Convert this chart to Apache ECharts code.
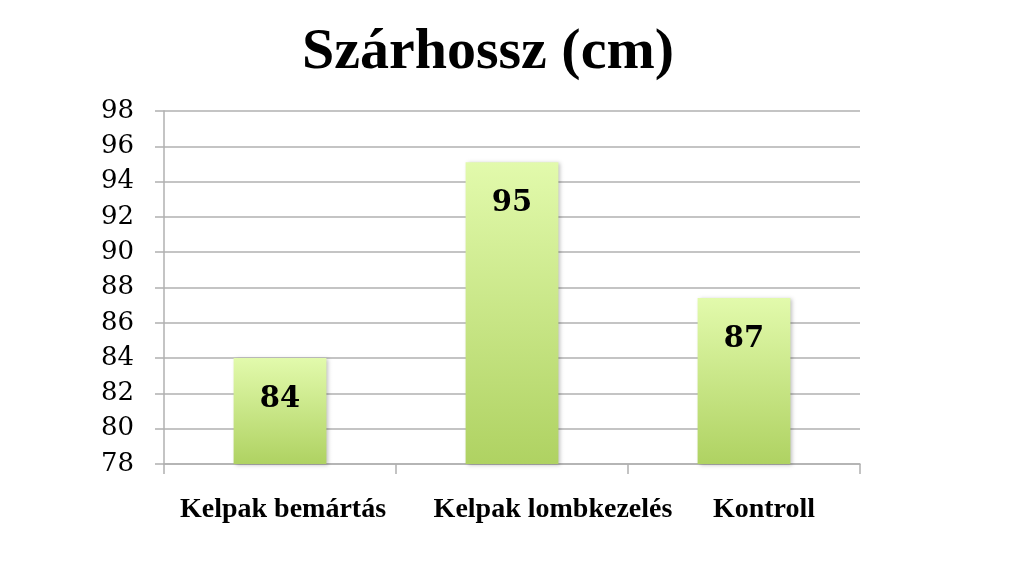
<!DOCTYPE html>
<html>
<head>
<meta charset="utf-8">
<script src="https://cdn.jsdelivr.net/npm/echarts@6/dist/echarts.min.js"></script>
<style>
html,body{margin:0;padding:0;background:#fff;}
#chart{width:1024px;height:571px;}
</style>
</head>
<body>
<div id="chart"></div>
<script>
var titleText = 'Szárhossz (cm)';
var categories = ['Kelpak bemártás', 'Kelpak lombkezelés', 'Kontroll'];
var values = [84.0, 95.1, 87.4];
var labelText = ['84', '95', '87'];
var yTicks = [78, 80, 82, 84, 86, 88, 90, 92, 94, 96, 98];
var catLabelX = [283, 553, 764];

var chart = echarts.init(document.getElementById('chart'));
var grey = '#b0b0b0';

var graphics = [{
  type: 'text', x: 488, y: 53,
  style: { text: titleText, font: 'bold 58px "Liberation Serif"', fill: '#000', align: 'center', verticalAlign: 'middle' }
}];
categories.forEach(function (c, i) {
  graphics.push({
    type: 'text', x: catLabelX[i], y: 510,
    style: { text: c, font: 'bold 28px "Liberation Serif"', fill: '#000', align: 'center', verticalAlign: 'middle' }
  });
});

chart.setOption({
  animation: false,
  backgroundColor: '#fff',
  grid: { left: 164, right: 164, top: 111, bottom: 107 },
  xAxis: {
    type: 'category',
    data: categories,
    axisLine: { show: true, lineStyle: { color: grey, width: 1.5 } },
    axisTick: { show: true, length: 10, lineStyle: { color: grey, width: 1.5 } },
    axisLabel: { show: false }
  },
  yAxis: {
    type: 'value',
    min: yTicks[0], max: yTicks[yTicks.length - 1], interval: 2,
    axisLine: { show: true, lineStyle: { color: grey, width: 1.5 } },
    axisTick: { show: true, length: 9, lineStyle: { color: grey, width: 1.5 } },
    splitLine: { show: true, lineStyle: { color: grey, width: 1.5 } },
    axisLabel: { margin: 30, color: '#000', fontFamily: 'DejaVu Serif', fontSize: 26, padding: [8, 0, 0, 0] }
  },
  series: [{
    type: 'bar',
    data: values,
    barWidth: '40%',
    itemStyle: {
      color: new echarts.graphic.LinearGradient(0, 0, 0, 1, [
        { offset: 0, color: '#e2faac' },
        { offset: 1, color: '#afd262' }
      ]),
      shadowBlur: 4, shadowColor: 'rgba(0,0,0,0.25)', shadowOffsetX: 2, shadowOffsetY: 1
    },
    label: {
      show: true, position: 'insideTop', distance: 27,
      formatter: function (p) { return labelText[p.dataIndex]; },
      fontFamily: 'DejaVu Serif', fontWeight: 'bold', fontSize: 29, lineHeight: 29, color: '#000'
    }
  }],
  graphic: graphics
});
</script>
</body>
</html>
